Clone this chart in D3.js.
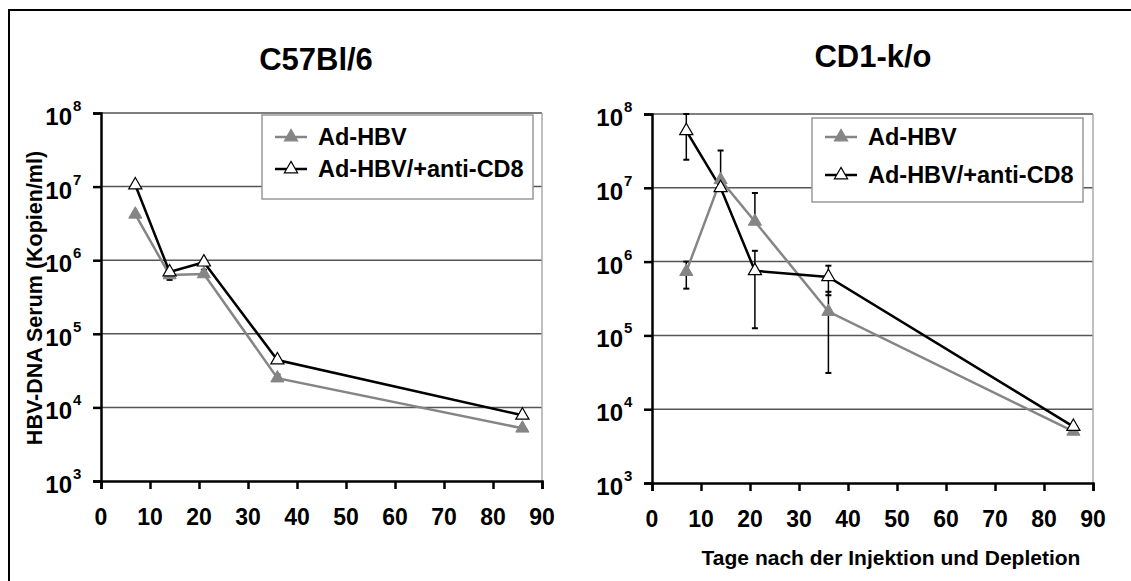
<!DOCTYPE html>
<html><head><meta charset="utf-8">
<script src="https://cdn.jsdelivr.net/npm/d3@7"></script>
<style>
html,body{margin:0;padding:0;background:#fff;}
svg{display:block;font-family:"Liberation Sans",Arial,sans-serif;}
</style></head>
<body>
<script>
// ---- data ----
const days = [7, 14, 21, 36, 86];
const xTicks = [0, 10, 20, 30, 40, 50, 60, 70, 80, 90];
const yExponents = [3, 4, 5, 6, 7, 8];
const seriesNames = ["Ad-HBV", "Ad-HBV/+anti-CD8"];
const panelTitles = ["C57Bl/6", "CD1-k/o"];

const c57AdHBV = [4.2e6, 6.3e5, 6.5e5, 2.5e4, 5.2e3];
const c57AntiCD8 = [1.05e7, 6.9e5, 9.4e5, 4.4e4, 7.8e3];
const c57AdHBVLo = [null, 5.4e5, null, null, 4.9e3];
const c57AdHBVHi = [null, null, 7.4e5, 2.8e4, null];
const c57AntiCD8Lo = [null, null, null, null, null];
const c57AntiCD8Hi = [null, null, null, null, null];

const cd1AdHBV = [7.3e5, 1.28e7, 3.5e6, 2.1e5, 5.0e3];
const cd1AntiCD8 = [5.9e7, 1.0e7, 7.5e5, 6.2e5, 5.8e3];
const cd1AdHBVLo = [4.3e5, null, null, 3.1e4, null];
const cd1AdHBVHi = [1.0e6, 3.2e7, 8.5e6, 3.9e5, null];
const cd1AntiCD8Lo = [2.4e7, null, 1.25e5, 3.5e5, null];
const cd1AntiCD8Hi = [1.0e8, null, 1.4e6, 8.8e5, null];

const xLabel = "Tage nach der Injektion und Depletion";
const yLabel = "HBV-DNA Serum (Kopien/ml)";

// ---- drawing ----
const W = 1131, H = 581;
const svg = d3.select("body").append("svg").attr("width", W).attr("height", H);
svg.append("rect").attr("width", W).attr("height", H).attr("fill", "#fff");
// outer frame
svg.append("rect").attr("x", 9).attr("y", 10).attr("width", 1200).attr("height", 1000)
  .attr("fill", "none").attr("stroke", "#000").attr("stroke-width", 2);

const GRAY = "#858585";
const panels = [
  {title: panelTitles[0], titleX: 316, titleY: 70, x0: 101, y0: 481, y1: 113,
   legend: {x: 262, y: 115, w: 271, h: 84, rows: [145, 177], lineX: 275, textX: 318},
   a: c57AdHBV, aLo: c57AdHBVLo, aHi: c57AdHBVHi, b: c57AntiCD8, bLo: c57AntiCD8Lo, bHi: c57AntiCD8Hi},
  {title: panelTitles[1], titleX: 873, titleY: 67, x0: 652, y0: 483, y1: 114,
   legend: {x: 812, y: 118, w: 271, h: 84, rows: [145, 183], lineX: 825, textX: 868},
   a: cd1AdHBV, aLo: cd1AdHBVLo, aHi: cd1AdHBVHi, b: cd1AntiCD8, bLo: cd1AntiCD8Lo, bHi: cd1AntiCD8Hi}
];

const tri = d3.symbol().type(d3.symbolTriangle).size(75);

panels.forEach(p => {
  const x = d3.scaleLinear().domain([0, 90]).range([p.x0, p.x0 + 441]);
  const y = d3.scaleLog().domain([1e3, 1e8]).range([p.y0, p.y1]);
  const g = svg.append("g");

  // title
  g.append("text").attr("x", p.titleX).attr("y", p.titleY).attr("text-anchor", "middle")
    .attr("font-size", 31).attr("font-weight", "bold").text(p.title);

  // grid lines
  yExponents.filter(e => e > 3).forEach(e => {
    g.append("line").attr("x1", x(0)).attr("x2", x(90)).attr("y1", y(10 ** e)).attr("y2", y(10 ** e))
      .attr("stroke", "#555").attr("stroke-width", 1.5);
  });
  // right border of plot
  g.append("line").attr("x1", x(90)).attr("x2", x(90)).attr("y1", y(1e8)).attr("y2", y(1e3))
    .attr("stroke", "#aaa").attr("stroke-width", 1.5);

  // y axis
  const yAxis = d3.axisLeft(y).tickValues(yExponents.map(e => 10 ** e)).tickSize(8).tickFormat("");
  const ya = g.append("g").attr("transform", `translate(${x(0)},0)`).call(yAxis);
  ya.select(".domain").attr("stroke-width", 2.5);
  ya.selectAll(".tick line").attr("stroke-width", 2.5);
  yExponents.forEach(e => {
    const yy = y(10 ** e);
    g.append("text").attr("x", x(0) - 29).attr("y", yy + 12).attr("text-anchor", "end")
      .attr("font-size", 24).attr("font-weight", "bold").text("10");
    g.append("text").attr("x", x(0) - 28).attr("y", yy - 2).attr("text-anchor", "start")
      .attr("font-size", 15).attr("font-weight", "bold").text(e);
  });

  // x axis
  const xAxis = d3.axisBottom(x).tickValues(xTicks).tickSize(8).tickFormat("");
  const xa = g.append("g").attr("transform", `translate(0,${y(1e3)})`).call(xAxis);
  xa.select(".domain").attr("stroke-width", 2.5);
  xa.selectAll(".tick line").attr("stroke-width", 2.5);
  xTicks.forEach(t => {
    g.append("text").attr("x", x(t)).attr("y", y(1e3) + 44).attr("text-anchor", "middle")
      .attr("font-size", 23).attr("font-weight", "bold").text(t);
  });

  // error bars
  const err = (vals, lo, hi) => {
    days.forEach((d, i) => {
      [lo[i], hi[i]].forEach(v => {
        if (v == null) return;
        g.append("line").attr("x1", x(d)).attr("x2", x(d)).attr("y1", y(vals[i])).attr("y2", y(v))
          .attr("stroke", "#000").attr("stroke-width", 1.5);
        g.append("line").attr("x1", x(d) - 3).attr("x2", x(d) + 3).attr("y1", y(v)).attr("y2", y(v))
          .attr("stroke", "#000").attr("stroke-width", 2);
      });
    });
  };
  err(p.a, p.aLo, p.aHi);
  err(p.b, p.bLo, p.bHi);

  const line = d3.line().x((v, i) => x(days[i])).y(v => y(v));
  // series A (gray)
  g.append("path").datum(p.a).attr("d", line).attr("fill", "none").attr("stroke", GRAY).attr("stroke-width", 2.5);
  // series B (black)
  g.append("path").datum(p.b).attr("d", line).attr("fill", "none").attr("stroke", "#000").attr("stroke-width", 2.5);
  g.selectAll(null).data(p.a).enter().append("path").attr("d", tri)
    .attr("transform", (v, i) => `translate(${x(days[i])},${y(v)})`).attr("fill", GRAY).attr("stroke", GRAY);
  g.selectAll(null).data(p.b).enter().append("path").attr("d", tri)
    .attr("transform", (v, i) => `translate(${x(days[i])},${y(v)})`).attr("fill", "#fff").attr("stroke", "#000").attr("stroke-width", 1.2);

  // legend
  const L = p.legend;
  g.append("rect").attr("x", L.x).attr("y", L.y).attr("width", L.w).attr("height", L.h)
    .attr("fill", "#fff").attr("stroke", "#999").attr("stroke-width", 1.5);
  [[GRAY, GRAY, GRAY], ["#000", "#fff", "#000"]].forEach((c, i) => {
    const cy = L.rows[i] - 8;
    g.append("line").attr("x1", L.lineX).attr("x2", L.lineX + 32).attr("y1", cy).attr("y2", cy)
      .attr("stroke", c[0]).attr("stroke-width", 2.5);
    g.append("path").attr("d", tri).attr("transform", `translate(${L.lineX + 16},${cy})`)
      .attr("fill", c[1]).attr("stroke", c[2]).attr("stroke-width", 1.2);
    g.append("text").attr("x", L.textX).attr("y", L.rows[i]).attr("font-size", 23.5).attr("font-weight", "bold")
      .text(seriesNames[i]);
  });
});

// axis titles
svg.append("text").attr("transform", "translate(42,298) rotate(-90)").attr("text-anchor", "middle")
  .attr("font-size", 21.5).attr("font-weight", "bold").text(yLabel);
svg.append("text").attr("x", 891).attr("y", 565).attr("text-anchor", "middle")
  .attr("font-size", 21).attr("font-weight", "bold").text(xLabel);
</script>
</body></html>
